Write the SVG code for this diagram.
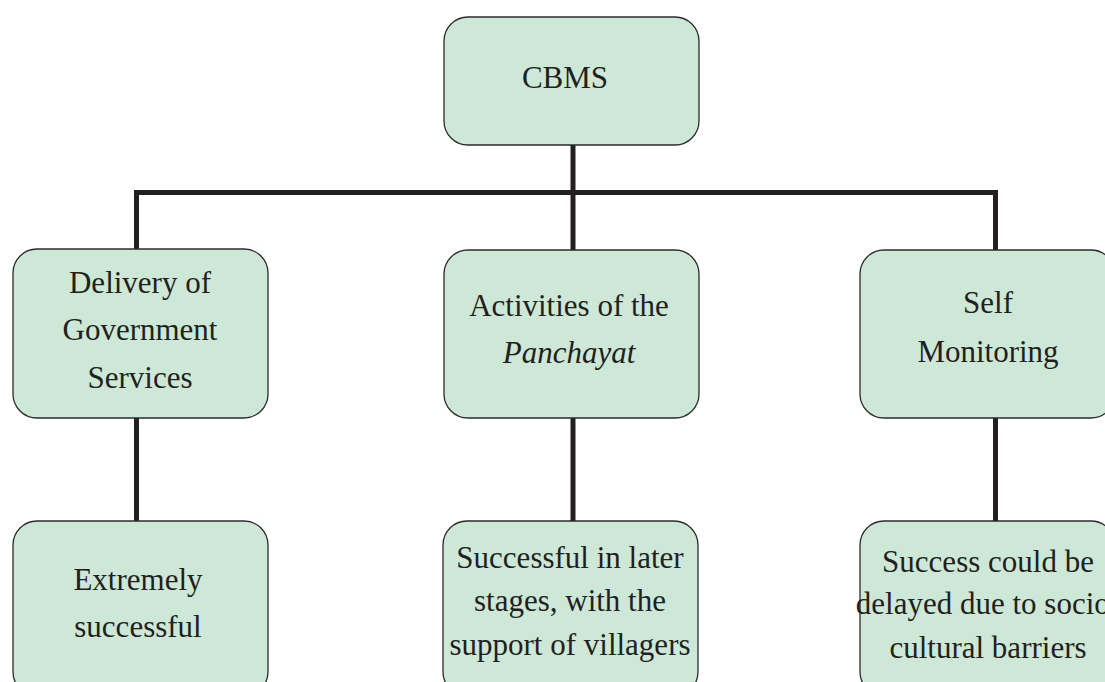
<svg xmlns="http://www.w3.org/2000/svg" width="1105" height="682" viewBox="0 0 1105 682">
<style>
.box{fill:#cde8d7;stroke:#2b2b2b;stroke-width:1.3}
.t{font-family:"Liberation Serif","Times New Roman",serif;font-size:31px;fill:#231f20;text-anchor:middle}
.conn{stroke:#231f20;stroke-width:5;fill:none}
</style>
<rect width="1105" height="682" fill="#ffffff"/>
<g id="connectors">
<path class="conn" d="M573 145 V192.5"/>
<path class="conn" d="M136.5 192.5 H995.5 M136.5 190 V249 M573 192.5 V250 M995.5 190 V250"/>
<path class="conn" d="M136.5 418 V521 M573 418 V521 M995.5 418 V521"/>
</g>
<g id="cbms">
<rect class="box" x="444" y="17" width="255" height="128" rx="24"/>
<text class="t" x="565" y="88">CBMS</text>
</g>
<g id="delivery">
<rect class="box" x="13" y="249" width="255" height="169" rx="24"/>
<text class="t" x="140" y="293">Delivery of</text>
<text class="t" x="140" y="340">Government</text>
<text class="t" x="140" y="388">Services</text>
</g>
<g id="activities">
<rect class="box" x="444" y="250" width="255" height="168" rx="24"/>
<text class="t" x="569" y="316">Activities of the</text>
<text class="t" x="569" y="363" font-style="italic">Panchayat</text>
</g>
<g id="self">
<rect class="box" x="860" y="250" width="255" height="168" rx="24"/>
<text class="t" x="988" y="313">Self</text>
<text class="t" x="988" y="362">Monitoring</text>
</g>
<g id="extremely">
<rect class="box" x="13" y="521" width="255" height="175" rx="24"/>
<text class="t" x="138" y="590">Extremely</text>
<text class="t" x="138" y="637">successful</text>
</g>
<g id="later">
<rect class="box" x="443" y="521" width="255" height="175" rx="24"/>
<text class="t" x="570" y="568">Successful in later</text>
<text class="t" x="570" y="611">stages, with the</text>
<text class="t" x="570" y="655">support of villagers</text>
</g>
<g id="delayed">
<rect class="box" x="860" y="521" width="255" height="175" rx="24"/>
<text class="t" x="988" y="572">Success could be</text>
<text class="t" x="988" y="614">delayed due to socio-</text>
<text class="t" x="988" y="658">cultural barriers</text>
</g>
</svg>
